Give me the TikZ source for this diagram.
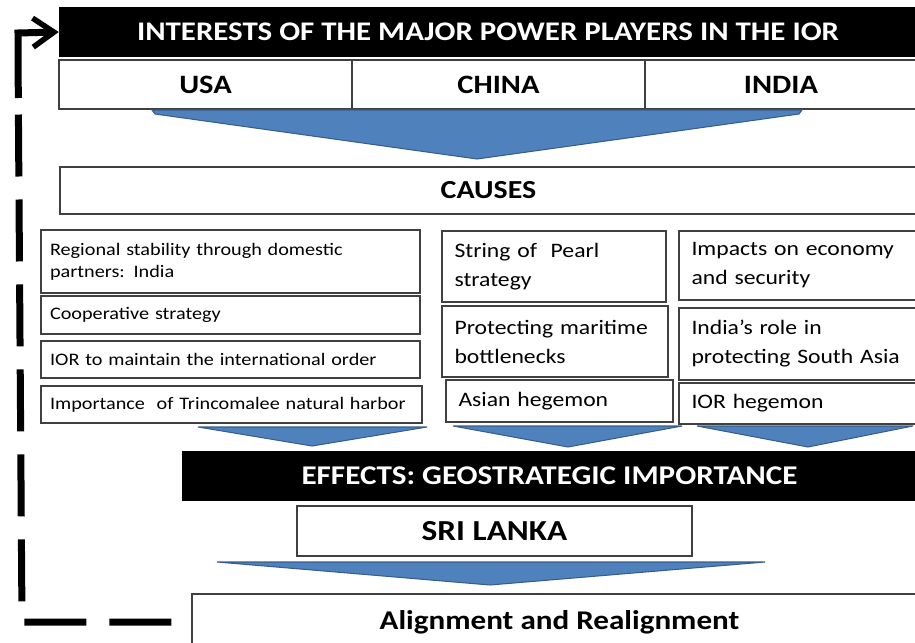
\documentclass[tikz,border=0pt]{standalone}
\usepackage{fontspec}
\setmainfont{Carlito}[FakeStretch=1.15]
\usetikzlibrary{arrows.meta}
\definecolor{chev}{HTML}{4F81BD}
\definecolor{chevline}{HTML}{385D8A}
\tikzset{
  hdr/.style={fill=black, text=white, inner sep=0pt, font=\bfseries\fontsize{15.3}{18}\selectfont},
  cell/.style={draw=black!75, line width=0.8pt, inner sep=0pt, font=\bfseries\fontsize{15.1}{18}\selectfont},
  usabox/.style={draw=black!75, line width=0.8pt, inner xsep=0.18cm, inner ysep=0pt, align=left, font=\fontsize{10}{12.5}\selectfont},
  sidebox/.style={draw=black!75, line width=0.8pt, inner xsep=0.25cm, inner ysep=0pt, align=left, font=\fontsize{11.7}{16.5}\selectfont},
  chevron/.style={fill=chev, draw=chevline, line width=0.6pt},
  dashline/.style={line width=0.14cm, dash pattern=on 1.24cm off 0.46cm},
  backarrow/.style={line width=0.14cm, -{Straight Barb[length=0.42cm, width=0.58cm, line width=0.11cm]}}
}
\begin{document}
\begin{tikzpicture}[x=0.02cm, y=-0.02cm]
  \useasboundingbox (0,0) rectangle (915,642);
  % powers
  \node (title) [hdr, minimum width=17.16cm, minimum height=1cm] at (488,32) {INTERESTS OF THE MAJOR POWER PLAYERS IN THE IOR};
  \node (usa) [cell, minimum width=5.86cm, minimum height=0.98cm] at (205.5,84.5) {USA};
  \node (china) [cell, minimum width=5.86cm, minimum height=0.98cm] at (498.5,84.5) {CHINA};
  \node (india) [cell, minimum width=5.44cm, minimum height=0.98cm] at (781,84.5) {INDIA};
  \filldraw[chevron] (152,110) -- (802,110) -- (799,114) -- (477,159) -- (155,114) -- cycle;
  % causes
  \node (causes) [cell, minimum width=17.14cm, minimum height=0.94cm, font=\bfseries\fontsize{14.8}{18}\selectfont] at (488.5,190.5) {CAUSES};
  \node (usa1) [usabox, text width=7.22cm, minimum height=1.26cm] at (230.5,261.5) {Regional stability through domestic\\partners: India};
  \node (usa2) [usabox, text width=7.22cm, minimum height=0.76cm] at (230.5,315) {Cooperative strategy};
  \node (usa3) [usabox, text width=7.22cm, minimum height=0.74cm] at (230.5,359.5) {IOR to maintain the international order};
  \node (usa4) [usabox, text width=7.26cm, minimum height=0.74cm] at (231.5,404.5) {Importance\ \ of Trincomalee natural harbor};
  \node (chn1) [sidebox, text width=3.98cm, minimum height=1.42cm] at (554,266.5) {String of\ \ Pearl\\strategy};
  \node (chn2) [sidebox, text width=4.02cm, minimum height=1.42cm] at (555,341.5) {Protecting maritime\\bottlenecks};
  \node (chn3) [sidebox, text width=4.04cm, minimum height=0.84cm] at (559.5,401) {Asian hegemon};
  \node (ind1) [sidebox, text width=4.26cm, minimum height=1.38cm] at (798,265.5) {Impacts on economy\\and security};
  \node (ind2) [sidebox, text width=4.26cm, minimum height=1.44cm] at (798,344) {India’s role in\\protecting South Asia};
  \node (ind3) [sidebox, text width=4.26cm, minimum height=0.82cm] at (798,403.5) {IOR hegemon};
  \filldraw[chevron] (198,427) -- (427,427) -- (312,446) -- cycle;
  \filldraw[chevron] (453,426) -- (682,426) -- (568,447) -- cycle;
  \filldraw[chevron] (697,426) -- (913,426) -- (808,447) -- cycle;
  % effects
  \node (effects) [hdr, minimum width=14.7cm, minimum height=1cm, font=\bfseries\fontsize{15.4}{18}\selectfont] at (549.5,476) {EFFECTS: GEOSTRATEGIC IMPORTANCE};
  \node (lanka) [cell, minimum width=7.9cm, minimum height=1cm, font=\bfseries\fontsize{16.5}{19}\selectfont] at (494.5,531) {SRI LANKA};
  \filldraw[chevron] (217,562) -- (765,562) -- (490,585) -- cycle;
  \node (align) [cell, minimum width=14.7cm, minimum height=1.12cm, font=\bfseries\fontsize{15.4}{18}\selectfont] at (559.5,622) {Alignment and Realignment};
  % back to the top
  \coordinate (low) at (22,622);
  \coordinate (mid) at (18.3,98);
  \coordinate (high) at (18,33);
  \draw[dashline, shorten <=0.4cm] (align.west) -- (low) -- (mid);
  \draw[backarrow] (mid) -- (high) -- (title.west);
\end{tikzpicture}
\end{document}
